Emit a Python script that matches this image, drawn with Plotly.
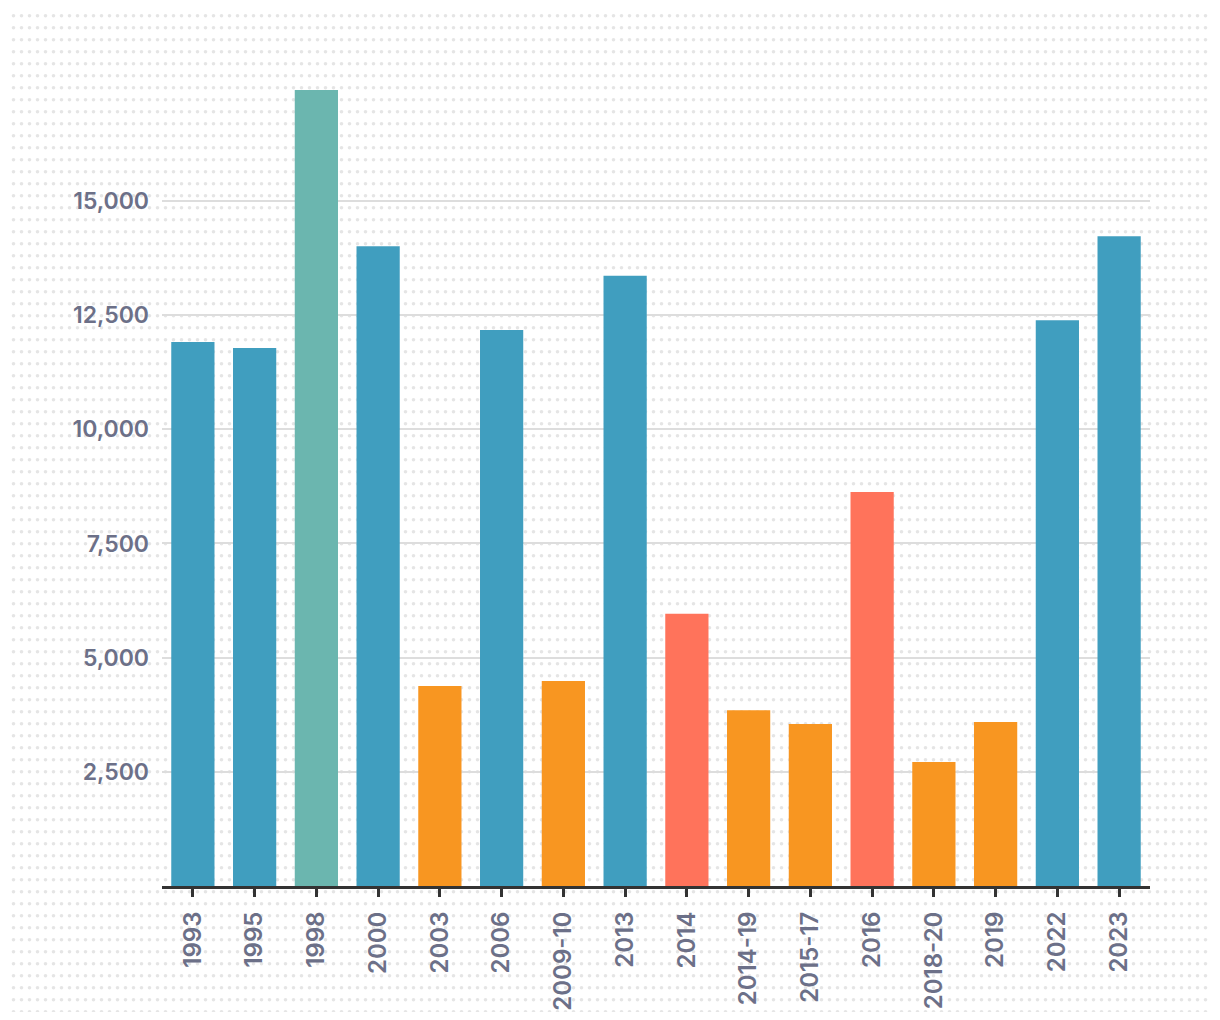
import base64
import plotly.graph_objects as go

# ---- data ----
categories = ["1993", "1995", "1998", "2000", "2003", "2006", "2009-10", "2013",
              "2014", "2014-19", "2015-17", "2016", "2018-20", "2019", "2022", "2023"]
values = [11910, 11780, 17430, 14010, 4380, 12175, 4490, 13360,
          5960, 3850, 3550, 8630, 2715, 3590, 12390, 14230]
groups = ["A", "A", "B", "A", "C", "A", "C", "A",
          "D", "C", "C", "D", "C", "C", "A", "A"]
y_ticks = [2500, 5000, 7500, 10000, 12500, 15000]

# ---- styles ----
group_colors = {"A": "#409EBF", "B": "#6BB6AF", "C": "#F89621", "D": "#FF735B"}
label_color = "#6C7088"
font_family = "Inter, 'Liberation Sans', Arial, sans-serif"

OFF = 8  # default page body margin
W, H = 1220 - OFF, 1020 - OFF
L, T = 162 - OFF, 90 - OFF
R = W - (1150 - OFF)
B = H - (886 - OFF)
pw, ph = W - L - R, H - T - B

fig = go.Figure(
    go.Bar(
        x=categories,
        y=values,
        marker=dict(color=[group_colors[g] for g in groups], line=dict(width=0)),
        hovertemplate="%{x}: %{y:,}<extra></extra>",
    )
)

# dotted background pattern as an svg image
IW, IH = 1198, 1000
svg = (
    f'<svg xmlns="http://www.w3.org/2000/svg" width="{IW}" height="{IH}">'
    f'<defs><pattern id="p" width="8" height="12" patternUnits="userSpaceOnUse">'
    f'<circle cx="3.5" cy="3.7" r="1.8" fill="#E5E5E5"/></pattern></defs>'
    f'<rect width="{IW}" height="{IH}" fill="url(#p)"/></svg>'
)
src = "data:image/svg+xml;base64," + base64.b64encode(svg.encode()).decode()
x0, y0 = 10 - OFF, 12 - OFF
fig.add_layout_image(
    source=src, xref="paper", yref="paper",
    x=(x0 - L) / pw, y=(H - B - y0) / ph,
    sizex=IW / pw, sizey=IH / ph,
    xanchor="left", yanchor="top", sizing="stretch", layer="below",
)

fig.update_layout(
    width=W, height=H,
    margin=dict(l=L, r=R, t=T, b=B, pad=0, autoexpand=False),
    paper_bgcolor="white",
    plot_bgcolor="rgba(0,0,0,0)",
    bargap=0.3,
    showlegend=False,
    font=dict(family=font_family, color=label_color),
)
fig.update_xaxes(
    type="category",
    automargin=False,
    range=[-0.5, len(categories) - 0.5],
    tickangle=-90,
    tickfont=dict(size=24, color=label_color, family=font_family, weight=600),
    ticks="outside", ticklen=8, tickwidth=2.5, tickcolor="#333333",
    ticklabelstandoff=5,
    showline=True, linecolor="#333333", linewidth=3,
    showgrid=False, zeroline=False,
)
fig.update_yaxes(
    automargin=False,
    range=[0, max(values)],
    tickvals=y_ticks,
    tickformat=",",
    tickfont=dict(size=23, color=label_color, family=font_family, weight=600),
    ticks="", ticklabelstandoff=12,
    showgrid=True, gridcolor="#DDDDDD", gridwidth=2,
    showline=False, zeroline=False,
)

fig.write_html("out.html")
